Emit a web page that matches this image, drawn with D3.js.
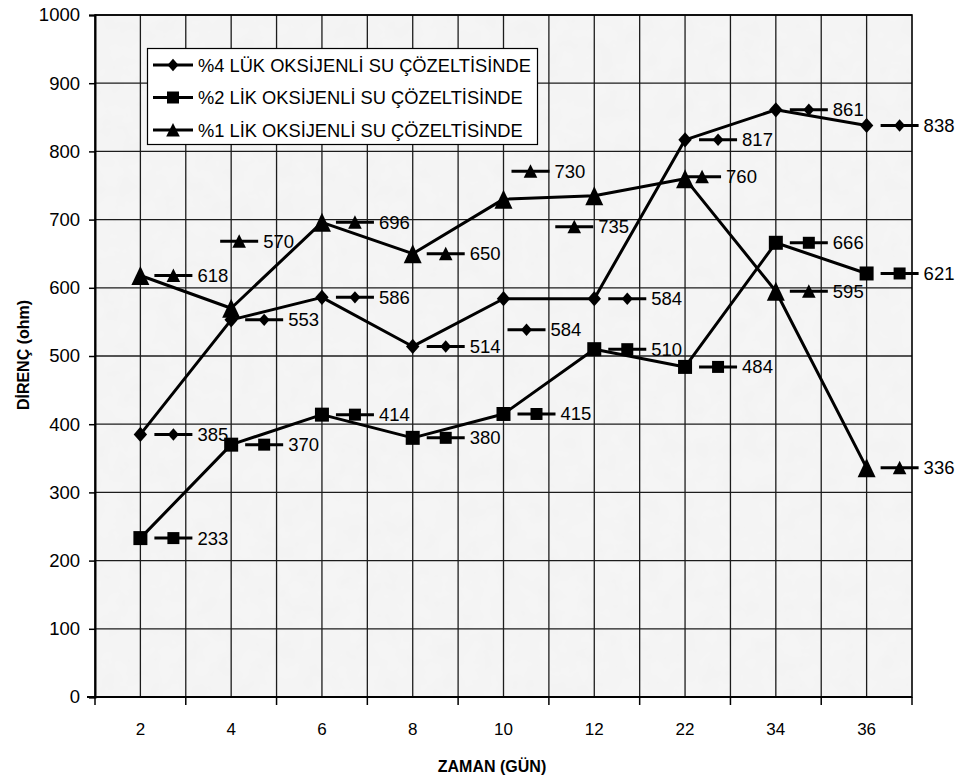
<!DOCTYPE html>
<html>
<head>
<meta charset="utf-8">
<script src="https://cdn.jsdelivr.net/npm/d3@7/dist/d3.min.js"></script>
<style>
  html, body { margin: 0; padding: 0; background: #ffffff; }
  svg { display: block; }
  text { font-family: "Liberation Sans", Arial, sans-serif; fill: #000; }
</style>
</head>
<body>
<svg id="chart" width="961" height="782"></svg>
<script>
// Day of measurement
const categories = ["2", "4", "6", "8", "10", "12", "22", "34", "36"];

// Resistance (ohm) per solution strength
const seriesNames = [
  "%4 LÜK OKSİJENLİ SU ÇÖZELTİSİNDE",
  "%2 LİK OKSİJENLİ SU ÇÖZELTİSİNDE",
  "%1 LİK OKSİJENLİ SU ÇÖZELTİSİNDE"
];
const values4 = [385, 553, 586, 514, 584, 584, 817, 861, 838];
const values2 = [233, 370, 414, 380, 415, 510, 484, 666, 621];
const values1 = [618, 570, 696, 650, 730, 735, 760, 595, 336];

const yTicks = [0, 100, 200, 300, 400, 500, 600, 700, 800, 900, 1000];
const xTitle = "ZAMAN (GÜN)";
const yTitle = "DİRENÇ (ohm)";

const series = [
  { name: seriesNames[0], values: values4, marker: "diamond" },
  { name: seriesNames[1], values: values2, marker: "square" },
  { name: seriesNames[2], values: values1, marker: "triangle" }
];

const svg = d3.select("#chart");
const plot = { left: 95, right: 912, top: 15, bottom: 697 };

const x = d3.scaleBand().domain(categories).range([plot.left, plot.right]).padding(0);
const xc = c => x(c) + x.bandwidth() / 2;
const y = d3.scaleLinear().domain([0, 1000]).range([plot.bottom, plot.top]);

// marker outlines, large for the points and small for label / legend keys
function markerPath(type, big) {
  if (type === "diamond") {
    const w = big ? 6.7 : 5.5, h = big ? 7.6 : 6.2;
    return `M0,${-h}L${w},0L0,${h}L${-w},0Z`;
  }
  if (type === "square") {
    const s = big ? 7 : 6;
    return `M${-s},${-s}H${s}V${s}H${-s}Z`;
  }
  const w = big ? 9 : 6.8, t = big ? 9.5 : 7, b = big ? 9.5 : 6.5;
  return `M0,${-t}L${w},${b}L${-w},${b}Z`;
}

// textured light grey plot background
const defs = svg.append("defs");
const f = defs.append("filter").attr("id", "grain")
  .attr("x", 0).attr("y", 0).attr("width", 1).attr("height", 1);
f.append("feTurbulence").attr("type", "fractalNoise")
  .attr("baseFrequency", 0.05).attr("numOctaves", 3).attr("seed", 7).attr("result", "noise");
f.append("feColorMatrix").attr("in", "noise").attr("type", "matrix")
  .attr("values", "0 0 0 0 0.5  0 0 0 0 0.5  0 0 0 0 0.5  0 0 0 0.07 -0.02");

svg.append("rect")
  .attr("x", plot.left).attr("y", plot.top)
  .attr("width", plot.right - plot.left).attr("height", plot.bottom - plot.top)
  .attr("fill", "#f5f5f5");
svg.append("rect")
  .attr("x", plot.left).attr("y", plot.top)
  .attr("width", plot.right - plot.left).attr("height", plot.bottom - plot.top)
  .attr("fill", "#000").attr("filter", "url(#grain)");

// grid
const grid = svg.append("g").attr("stroke", "#1c1c1c").attr("stroke-width", 1.3);
const vLines = [];
categories.forEach(c => { vLines.push(x(c)); vLines.push(xc(c)); });
grid.selectAll("line.v").data(vLines.slice(1)).join("line")
  .attr("x1", d => d).attr("x2", d => d)
  .attr("y1", plot.top).attr("y2", plot.bottom);
grid.selectAll("line.h").data(yTicks.slice(1)).join("line")
  .attr("x1", plot.left).attr("x2", plot.right)
  .attr("y1", d => y(d)).attr("y2", d => y(d));

// plot frame
svg.append("rect")
  .attr("x", plot.left).attr("y", plot.top)
  .attr("width", plot.right - plot.left).attr("height", plot.bottom - plot.top)
  .attr("fill", "none").attr("stroke", "#000").attr("stroke-width", 1.6);

// y axis
const yAxis = d3.axisLeft(y).tickValues(yTicks).tickFormat(d3.format("d"))
  .tickSize(6).tickPadding(9);
const gy = svg.append("g").attr("transform", `translate(${plot.left},0)`).call(yAxis);
gy.select(".domain").attr("stroke-width", 2);
gy.selectAll(".tick line").attr("stroke-width", 1.5);
gy.selectAll(".tick text").style("font-size", "18.5px")
  .style("font-family", "'Liberation Sans', Arial, sans-serif").attr("fill", "#000");

// x axis: ticks on category boundaries, labels at category centres
const boundaries = categories.map(c => x(c)).concat([plot.right]);
const gx = svg.append("g");
gx.append("line").attr("x1", plot.left - 8).attr("x2", plot.right)
  .attr("y1", plot.bottom).attr("y2", plot.bottom)
  .attr("stroke", "#000").attr("stroke-width", 2);
gx.selectAll("line.t").data(boundaries).join("line")
  .attr("x1", d => d).attr("x2", d => d)
  .attr("y1", plot.bottom).attr("y2", plot.bottom + 8)
  .attr("stroke", "#000").attr("stroke-width", 1.5);
gx.selectAll("text").data(categories).join("text")
  .attr("x", d => xc(d)).attr("y", 729)
  .attr("text-anchor", "middle").attr("dominant-baseline", "central")
  .style("font-size", "17px").text(d => d);

// axis titles
svg.append("text").attr("x", 492).attr("y", 766)
  .attr("text-anchor", "middle").attr("dominant-baseline", "central")
  .style("font-size", "16px").style("font-weight", "bold").text(xTitle);
svg.append("text")
  .attr("transform", "translate(23,355) rotate(-90)")
  .attr("text-anchor", "middle").attr("dominant-baseline", "central")
  .style("font-size", "16px").style("font-weight", "bold").text(yTitle);

// data labels with legend keys; a few are moved off their points
const nudge = {
  "2-1": [-25, -67],
  "0-4": [-10, 31],
  "2-4": [-6, -28],
  "2-5": [-53, 31],
  "2-6": [-16, -2]
};
const labels = svg.append("g");
series.forEach((s, si) => {
  s.values.forEach((v, i) => {
    const off = nudge[`${si}-${i}`] || [0, 0];
    const px = xc(categories[i]) + off[0];
    const py = y(v) + off[1];
    const g = labels.append("g").attr("transform", `translate(${px},${py})`);
    g.append("line").attr("x1", 14).attr("x2", 52).attr("y1", 0).attr("y2", 0)
      .attr("stroke", "#000").attr("stroke-width", 3);
    g.append("path").attr("d", markerPath(s.marker, false))
      .attr("transform", "translate(33,0)").attr("fill", "#000");
    g.append("text").attr("x", 57).attr("y", 0).attr("dominant-baseline", "central")
      .style("font-size", "18.5px").text(v);
  });
});

// series lines and markers
const line = d3.line().x((d, i) => xc(categories[i])).y(d => y(d));
series.forEach(s => {
  svg.append("path").datum(s.values).attr("d", line)
    .attr("fill", "none").attr("stroke", "#000").attr("stroke-width", 3)
    .attr("stroke-linejoin", "round");
  svg.append("g").selectAll("path").data(s.values).join("path")
    .attr("d", markerPath(s.marker, true))
    .attr("transform", (d, i) => `translate(${xc(categories[i])},${y(d)})`)
    .attr("fill", "#000");
});

// legend
const lg = svg.append("g");
lg.append("rect").attr("x", 147.5).attr("y", 48.5).attr("width", 390).attr("height", 96)
  .attr("fill", "#fff").attr("stroke", "#000").attr("stroke-width", 1.2);
const rowY = [65, 97.5, 130];
series.forEach((s, si) => {
  const g = lg.append("g").attr("transform", `translate(0,${rowY[si]})`);
  g.append("line").attr("x1", 153).attr("x2", 193).attr("y1", 0).attr("y2", 0)
    .attr("stroke", "#000").attr("stroke-width", 3);
  g.append("path").attr("d", markerPath(s.marker, false))
    .attr("transform", "translate(173,0)").attr("fill", "#000");
  g.append("text").attr("x", 198).attr("y", 0).attr("dominant-baseline", "central")
    .style("font-size", "18.3px").text(s.name);
});
</script>
</body>
</html>
